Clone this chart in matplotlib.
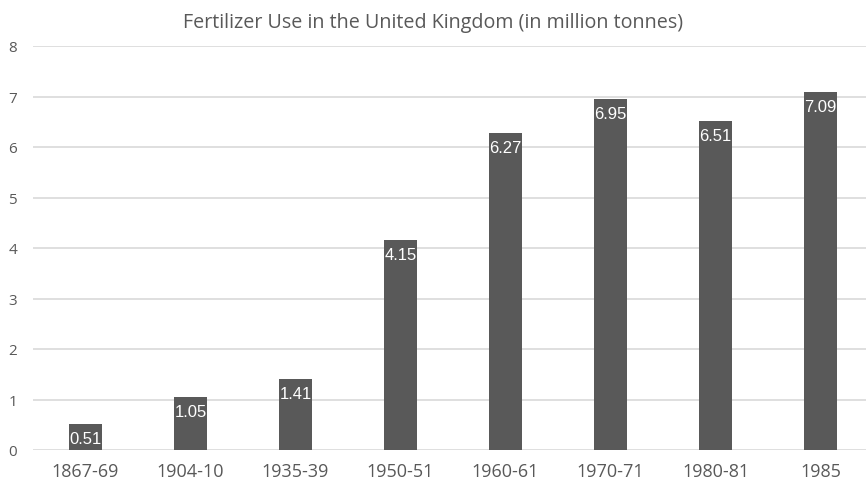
import numpy as np
import matplotlib.pyplot as plt

periods = ["1867-69", "1904-10", "1935-39", "1950-51", "1960-61", "1970-71", "1980-81", "1985"]
usage = [0.51, 1.05, 1.41, 4.15, 6.27, 6.95, 6.51, 7.09]
yticks = [0, 1, 2, 3, 4, 5, 6, 7, 8]

plt.rcParams['font.family'] = ['Open Sans', 'DejaVu Sans']

fig = plt.figure(figsize=(8.66, 4.89), dpi=100)
ax = fig.add_axes([33 / 866, 38 / 489, 840 / 866, 404 / 489])

x = np.arange(len(periods))
ax.bar(x, usage, width=0.31, color="#595959", zorder=3)
for xi, v in zip(x, usage):
    ax.annotate(f"{v:.2f}", (xi, v), xytext=(0, -5), textcoords="offset points",
                ha="center", va="top", color="white", fontsize=12,
                family="Liberation Sans", zorder=4)

ax.set_xlim(-0.5, len(periods) - 0.5)
ax.set_ylim(0, 8)
ax.set_yticks(yticks)
ax.set_xticks(x)
ax.set_xticklabels(periods, fontsize=13)
ax.yaxis.grid(True, color="#d9d9d9", linewidth=1.2, zorder=0)
ax.tick_params(length=0, colors="#595959")
ax.tick_params(axis="x", pad=9)
ax.tick_params(axis="y", pad=11.5, labelsize=11)
for s in ax.spines.values():
    s.set_visible(False)

fig.text(0.5, 1 - 23 / 489, "Fertilizer Use in the United Kingdom (in million tonnes)",
         ha="center", va="center", fontsize=14.2, color="#595959")

fig.savefig("out.png", dpi=100)
